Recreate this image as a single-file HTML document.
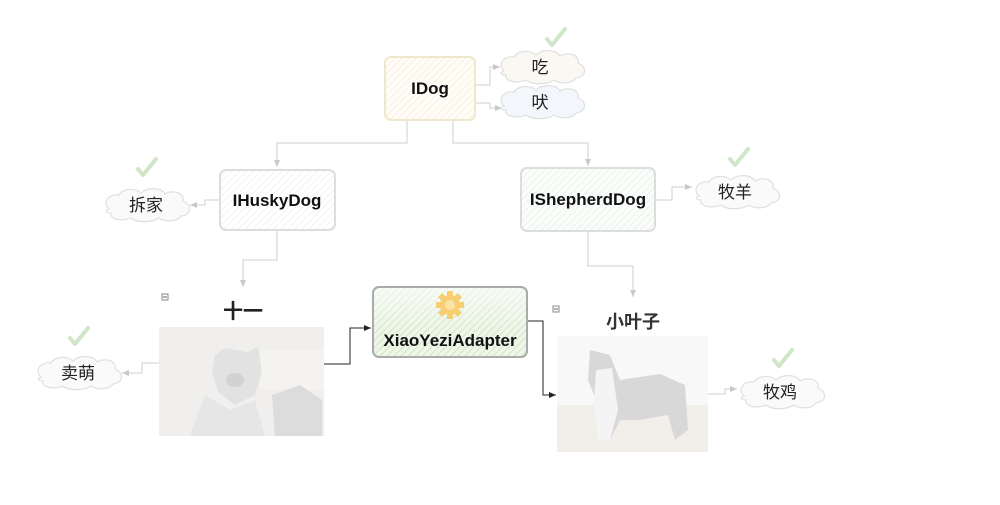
<!DOCTYPE html>
<html><head><meta charset="utf-8">
<style>
html,body{margin:0;padding:0;background:#fff;width:1000px;height:505px;overflow:hidden}
text{font-family:"Liberation Sans","Noto Sans CJK SC",sans-serif}
</style></head>
<body>
<svg width="1000" height="505" viewBox="0 0 1000 505" xmlns="http://www.w3.org/2000/svg">
<defs>
<pattern id="hatch" width="5" height="5" patternUnits="userSpaceOnUse" patternTransform="rotate(45)">
<rect width="5" height="5" fill="#fff"/><line x1="0" y1="0" x2="0" y2="5" stroke="#eee" stroke-width="1.5"/></pattern>
<pattern id="hatchY" width="5" height="5" patternUnits="userSpaceOnUse" patternTransform="rotate(45)">
<rect width="5" height="5" fill="#fffdf6"/><line x1="0" y1="0" x2="0" y2="5" stroke="#f2eedf" stroke-width="1.5"/></pattern>
<pattern id="hatchG" width="5" height="5" patternUnits="userSpaceOnUse" patternTransform="rotate(45)">
<rect width="5" height="5" fill="#eef6e8"/><line x1="0" y1="0" x2="0" y2="5" stroke="#c9dfbe" stroke-width="1.5"/></pattern>
<pattern id="hatchS" width="5" height="5" patternUnits="userSpaceOnUse" patternTransform="rotate(45)">
<rect width="5" height="5" fill="#fbfdfb"/><line x1="0" y1="0" x2="0" y2="5" stroke="#e6efe8" stroke-width="1.5"/></pattern>
<linearGradient id="gg" x1="0" y1="0" x2="0" y2="1"><stop offset="0" stop-color="#fff" stop-opacity="0.6"/><stop offset="0.6" stop-color="#fff" stop-opacity="0"/></linearGradient>
<marker id="ag" markerWidth="8" markerHeight="8" refX="7" refY="4" orient="auto"><path d="M0,1 L7,4 L0,7 z" fill="#c8c8c8"/></marker>
<marker id="ab" markerWidth="8" markerHeight="8" refX="7" refY="4" orient="auto"><path d="M0,1 L7,4 L0,7 z" fill="#222"/></marker>
<g id="check"><path d="M-8,2 L-3,8 L10,-8" fill="none" stroke="#cfe6c8" stroke-width="4" stroke-linecap="round" stroke-linejoin="round"/></g>
<g id="cloud">
<path d="M-38,4 C-46,-4 -36,-12 -28,-10 C-24,-17 -12,-17 -6,-12 C0,-18 14,-18 18,-11 C26,-16 38,-12 36,-4 C46,0 44,10 34,11 C30,17 18,17 12,13 C4,18 -10,18 -16,13 C-26,17 -38,14 -36,8 C-42,8 -42,5 -38,4 z"/>
</g>
</defs>

<g fill="none" stroke="#cfcfcf" stroke-width="1">
<path d="M475,85 H490 V67 H500" marker-end="url(#ag)"/>
<path d="M475,103 H490 V108 H502" marker-end="url(#ag)"/>
<path d="M407,120 V143 H277 V167" marker-end="url(#ag)"/>
<path d="M453,120 V143 H588 V166" marker-end="url(#ag)"/>
<path d="M220,200 H205 V205 H190" marker-end="url(#ag)"/>
<path d="M277,231 V260 H243 V287" marker-end="url(#ag)"/>
<path d="M159,363 H142 V373 H122" marker-end="url(#ag)"/>
<path d="M655,200 H672 V187 H692" marker-end="url(#ag)"/>
<path d="M588,232 V266 H633 V297" marker-end="url(#ag)"/>
<path d="M708,394 H725 V389 H737" marker-end="url(#ag)"/>
</g>
<g fill="none" stroke="#222" stroke-width="1">
<path d="M324,364 H350 V328 H371" marker-end="url(#ab)"/>
<path d="M527,321 H543 V395 H556" marker-end="url(#ab)"/>
</g>

<rect x="385" y="57" width="90" height="63" rx="6" fill="url(#hatchY)" stroke="#f0e8cc" stroke-width="2"/>
<text x="430" y="94" font-size="17" font-weight="bold" text-anchor="middle" fill="#111">IDog</text>

<rect x="220" y="170" width="115" height="60" rx="6" fill="url(#hatch)" stroke="#ddd" stroke-width="2"/>
<text x="277" y="206" font-size="17" font-weight="bold" text-anchor="middle" fill="#111">IHuskyDog</text>

<rect x="521" y="168" width="134" height="63" rx="6" fill="url(#hatchS)" stroke="#ddd" stroke-width="2"/>
<text x="588" y="205" font-size="17" font-weight="bold" text-anchor="middle" fill="#111">IShepherdDog</text>

<rect x="373" y="287" width="154" height="70" rx="6" fill="url(#hatchG)" stroke="#aaa" stroke-width="2"/>
<rect x="374" y="288" width="152" height="68" rx="6" fill="url(#gg)"/>
<g transform="translate(450,305)">
<g fill="#f7cf72"><circle r="10"/><rect x="-3" y="-14" width="6" height="28"/><rect x="-14" y="-3" width="28" height="6"/>
<rect x="-3" y="-14" width="6" height="28" transform="rotate(45)"/><rect x="-3" y="-14" width="6" height="28" transform="rotate(-45)"/></g>
<circle r="5" fill="#fbe3a8"/>
</g>
<text x="450" y="346" font-size="17" font-weight="bold" text-anchor="middle" fill="#111">XiaoYeziAdapter</text>

<g stroke="#e0e0e0" stroke-width="1.2">
<use href="#cloud" x="542" y="67" fill="#fbf8f3"/>
<use href="#cloud" x="542" y="102" fill="#f3f6fa"/>
<use href="#cloud" x="147" y="205" fill="#fafafa"/>
<use href="#cloud" x="79" y="373" fill="#fafafa"/>
<use href="#cloud" x="737" y="192" fill="#fafafa"/>
<use href="#cloud" x="782" y="392" fill="#fafafa"/>
</g>
<g font-size="17" text-anchor="middle" fill="#222">
<text x="540" y="73">吃</text>
<text x="540" y="108">吠</text>
<text x="146" y="211">拆家</text>
<text x="78" y="379">卖萌</text>
<text x="735" y="198">牧羊</text>
<text x="780" y="398">牧鸡</text>
</g>
<use href="#check" x="555" y="37"/>
<use href="#check" x="146" y="167"/>
<use href="#check" x="78" y="336"/>
<use href="#check" x="738" y="157"/>
<use href="#check" x="782" y="358"/>

<text x="243" y="318" font-size="20" font-weight="bold" text-anchor="middle" fill="#222">十一</text>
<text x="633" y="328" font-size="18" font-weight="bold" text-anchor="middle" fill="#333">小叶子</text>
<rect x="162" y="294" width="6" height="6" fill="#fff" stroke="#888" stroke-width="1"/>
<line x1="163" y1="297" x2="167" y2="297" stroke="#666"/>
<rect x="553" y="306" width="6" height="6" fill="#fff" stroke="#888" stroke-width="1"/>
<line x1="554" y1="309" x2="558" y2="309" stroke="#666"/>

<rect x="159" y="327" width="165" height="109" fill="#f0efed"/>
<rect x="260" y="350" width="64" height="40" fill="#f5f3ef"/>
<path d="M215,355 L225,348 L248,352 L258,347 L262,372 L255,395 L235,405 L218,392 L212,372 z" fill="#e2e2e2"/>
<ellipse cx="235" cy="380" rx="9" ry="7" fill="#d2d2d2"/>
<path d="M190,436 L205,395 L230,410 L255,400 L265,436 z" fill="#e6e6e6"/>
<path d="M272,395 L300,385 L322,400 L322,436 L275,436 z" fill="#dcdcdc"/>

<rect x="557" y="336" width="151" height="116" fill="#f8f8f8"/>
<rect x="557" y="405" width="151" height="47" fill="#f2efeb"/>
<path d="M590,350 L610,355 L620,380 L660,374 L685,385 L688,430 L675,440 L668,415 L640,420 L620,420 L610,440 L598,440 L596,400 L588,380 z" fill="#d8d8d8"/>
<path d="M596,370 L612,368 L618,410 L610,440 L598,440 L594,400 z" fill="#f4f4f4"/>
</svg>
</body></html>
